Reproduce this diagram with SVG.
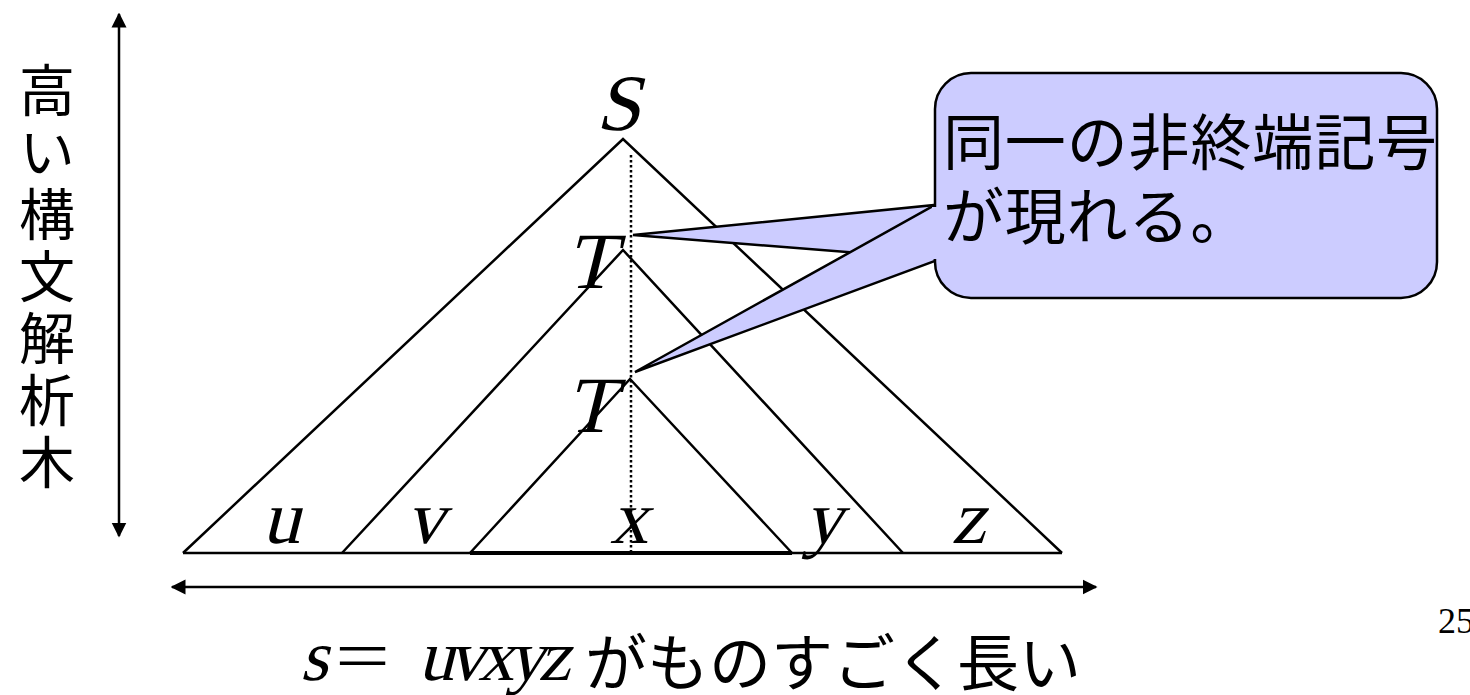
<svg xmlns="http://www.w3.org/2000/svg" width="1470" height="695" viewBox="0 0 1470 695">
<style>
.ln{stroke:#000;stroke-width:2.5;fill:none}
.call{fill:#ccccff;stroke:#000;stroke-width:2.5;stroke-linejoin:miter}
</style>
<defs>
<marker id="ah" viewBox="0 0 10 10" refX="9" refY="5" markerWidth="6" markerHeight="6.5" orient="auto-start-reverse" markerUnits="strokeWidth">
<path d="M0,0 L10,5 L0,10 Z" fill="#000"/>
</marker>
</defs>
<rect width="1470" height="695" fill="#fff"/>

<g id="height-label">
<text font-family="Noto Sans CJK JP, sans-serif" font-size="56" x="47" y="62" style="writing-mode:vertical-rl" letter-spacing="6">高い構文解析木</text>
</g>

<g id="tree-S">
<polyline class="ln" points="183,553 623,139 1062,553"/>
<text font-family="Liberation Serif, serif" font-size="80" transform="translate(618,130) skewX(-14)" text-anchor="middle">S</text>
</g>
<g id="tree-T1">
<polyline class="ln" points="342,553 623,250 903,553"/>
<text font-family="Liberation Serif, serif" font-size="80" transform="translate(590,288) skewX(-14)" text-anchor="middle">T</text>
</g>
<g id="tree-T2">
<polyline class="ln" points="470,553 630,379 792,553"/>
<text font-family="Liberation Serif, serif" font-size="80" transform="translate(590,432) skewX(-14)" text-anchor="middle">T</text>
</g>

<g id="connectors">
<line x1="631" y1="155" x2="631" y2="553" stroke="#000" stroke-width="2.5" stroke-dasharray="2.5 2.5"/>
<line class="ln" x1="183" y1="553" x2="1062" y2="553"/>
<line x1="470" y1="553" x2="792" y2="553" stroke="#000" stroke-width="4"/>
<line class="ln" x1="119" y1="14" x2="119" y2="536" marker-start="url(#ah)" marker-end="url(#ah)"/>
<line class="ln" x1="172" y1="587" x2="1096" y2="587" marker-start="url(#ah)" marker-end="url(#ah)"/>
</g>

<g id="leaf-labels" font-family="Liberation Serif, serif" font-size="76" text-anchor="middle">
<text transform="translate(281,543) skewX(-14)">u</text>
<text transform="translate(425,543) skewX(-14)">v</text>
<text transform="translate(629,543) skewX(-14)">x</text>
<text transform="translate(823,543) skewX(-14)">y</text>
<text transform="translate(968,543) skewX(-14)">z</text>
</g>

<g id="callout">
<polygon class="call" points="633,235 935,205 935,259"/>
<polygon class="call" points="635,372 935,205 935,261"/>
<rect class="call" x="935" y="73" width="502" height="225" rx="36" ry="36"/>
<rect x="932" y="207" width="6" height="52" fill="#ccccff"/>
<text font-family="Noto Sans CJK JP, sans-serif" font-size="61"><tspan x="943" y="165" textLength="494" lengthAdjust="spacing">同一の非終端記号</tspan><tspan x="943" y="239" letter-spacing="0.8">が現れる。</tspan></text>
</g>

<g id="bottom-label">
<text font-family="Liberation Serif, serif" font-size="72" transform="translate(300,680) skewX(-14)">s</text>
<text font-family="Liberation Serif, serif" font-size="72" x="335" y="680" textLength="55" lengthAdjust="spacingAndGlyphs">=</text>
<text font-family="Liberation Serif, serif" font-size="72" transform="translate(418,680) skewX(-14)" textLength="152" lengthAdjust="spacing">uvxyz</text>
<text font-family="Noto Sans CJK JP, sans-serif" font-size="62" x="585" y="686">がものすごく長い</text>
</g>

<g id="page-number">
<text font-family="Liberation Serif, serif" font-size="36" x="1438" y="633">25</text>
</g>
</svg>
